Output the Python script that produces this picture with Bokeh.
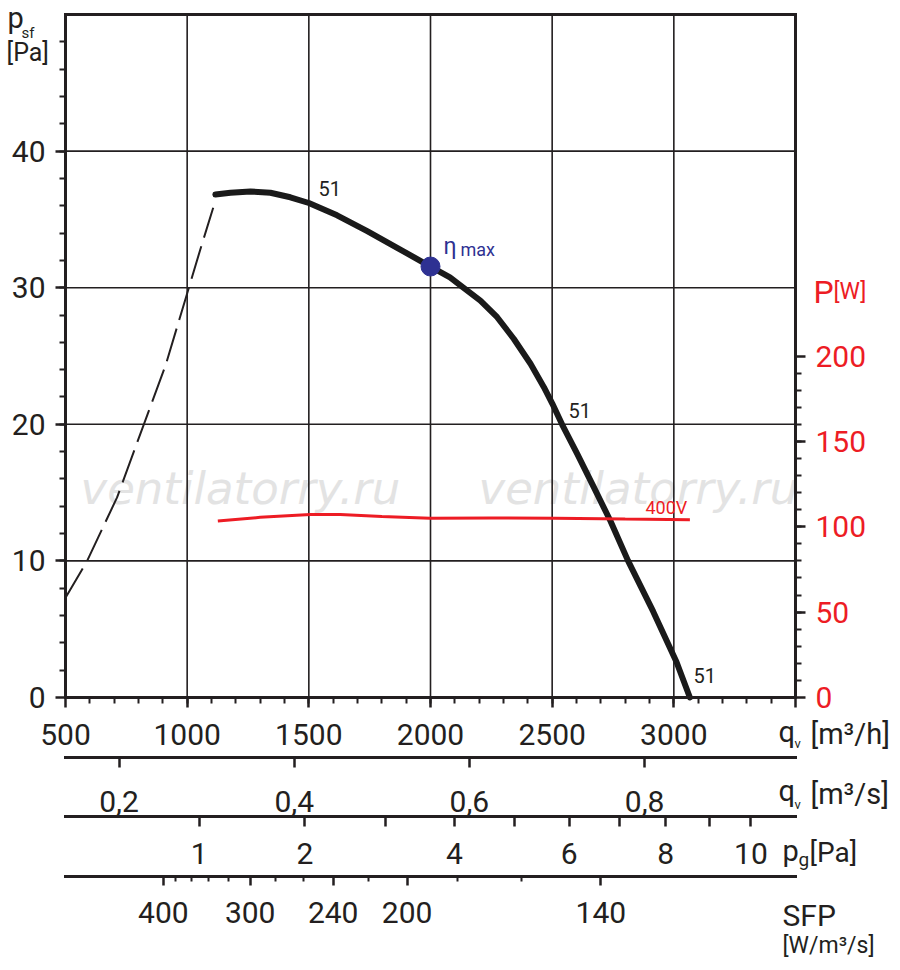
from math import sqrt

from bokeh.plotting import figure
from bokeh.models import Range1d, LinearAxis, FixedTicker, Label
from bokeh.embed import file_html
from bokeh.resources import INLINE

INK = "#231f20"
RED = "#ed1c24"
BLUE = "#2e3192"
FONT = "Roboto"

# fan curve "51": static pressure p_sf [Pa] over air flow q_v [m3/h]
q_fan = [1116, 1178, 1260, 1342, 1424, 1500, 1616, 1740, 1863, 2000, 2080, 2135, 2205,
         2274, 2342, 2411, 2466, 2501, 2541, 2603, 2671, 2740, 2812, 2915, 3011, 3066]
p_fan = [36.82, 36.95, 37.05, 36.95, 36.62, 36.2, 35.3, 34.14, 32.92, 31.55, 30.75, 30.0, 29.06,
         27.84, 26.26, 24.43, 22.72, 21.5, 19.98, 17.84, 15.4, 12.9, 10.0, 6.3, 2.6, 0.0]

# unstable (stall) part, dashed
q_stall = [500, 589, 712, 822, 911, 1007, 1054, 1107]
p_stall = [7.3, 10.0, 14.65, 20.0, 24.3, 30.0, 32.8, 35.85]

# input power P [W] at 400V
q_pow = [1126, 1300, 1506, 1629, 1800, 1998, 2250, 2511, 2800, 3066]
P_pow = [103.3, 105.5, 107.2, 107.2, 106.0, 105.0, 105.1, 105.0, 104.5, 104.1]

# best efficiency point
q_eta = [2000]
p_eta = [31.55]

# axes
q_ticks = [500, 1000, 1500, 2000, 2500, 3000, 3500]
p_ticks = [0, 10, 20, 30, 40]
P_ticks = [0, 50, 100, 150, 200]
qs_ticks = [0.2, 0.4, 0.6, 0.8]                  # m3/s
pg_ticks = [1, 2, 3, 4, 5, 6, 7, 8, 9, 10]       # dynamic pressure [Pa]
pg_labels = ["1", "2", "", "4", "", "6", "", "8", "", "10"]
pg_const = 1049                                  # q_v [m3/h] at p_g = 1 Pa
sfp_major = [400, 300, 240, 200, 140]
sfp_major_q = [902, 1259, 1600, 1904, 2700]
sfp_minor_q = [952, 1017, 1087, 1169, 1362, 1477, 1744, 2109, 2372]

# layout: the frame fills the canvas, the chart box sits at pixels 65..795 x 14..697
W, H = 900, 970
BOX_L, BOX_R, BOX_T, BOX_B = 65, 795, 14, 697
kx = (BOX_R - BOX_L) / (q_ticks[-1] - q_ticks[0])
ky = (BOX_B - BOX_T) / 50.0


def qx(px):
    return q_ticks[0] + (px - BOX_L) / kx


def py(px):
    return (BOX_B - px) / ky


p = figure(width=W, height=H, x_range=Range1d(qx(0), qx(W)), y_range=Range1d(py(H), py(0)),
           output_backend="svg", toolbar_location=None, min_border=0,
           x_axis_location=None, y_axis_location=None)
p.outline_line_color = None
p.grid.visible = False
p.background_fill_color = "white"
p.border_fill_color = "white"
p.extra_y_ranges = {"power": Range1d(py(H) * 8, py(0) * 8)}


def style(ax, out=10, minor_out=6, standoff=10, color=INK):
    ax.axis_line_color = INK
    ax.axis_line_width = 3
    ax.axis_line_cap = "square"
    ax.major_tick_line_color = INK
    ax.major_tick_line_width = 2.5
    ax.minor_tick_line_color = INK
    ax.minor_tick_line_width = 2
    ax.major_tick_in = 0
    ax.major_tick_out = out
    ax.minor_tick_in = 0
    ax.minor_tick_out = minor_out
    ax.major_label_standoff = standoff
    ax.major_label_text_font = FONT
    ax.major_label_text_font_size = "30px"
    ax.major_label_text_color = color


def add_axis(side, loc, ticker, standoff, out=10, minor_out=6, color=INK, bounds=(500, 3500),
             overrides=None, **kw):
    ax = LinearAxis(fixed_location=loc, bounds=bounds, ticker=ticker, **kw)
    if overrides:
        ax.major_label_overrides = overrides
    style(ax, out=out, minor_out=minor_out, standoff=standoff, color=color)
    p.add_layout(ax, side)
    return ax


# grid
grid_q = q_ticks[1:-1]
grid_p = p_ticks[1:]
p.segment(x0=grid_q, y0=[0] * len(grid_q), x1=grid_q, y1=[50] * len(grid_q),
          line_color=INK, line_width=1.6)
p.segment(x0=[500] * len(grid_p), y0=grid_p, x1=[3500] * len(grid_p), y1=grid_p,
          line_color=INK, line_width=1.6)

# chart box axes
add_axis("below", 0, FixedTicker(ticks=q_ticks, minor_ticks=list(range(600, 3500, 100))),
         standoff=16, overrides={3500: ""})
add_axis("left", 500, FixedTicker(ticks=p_ticks, minor_ticks=list(range(2, 50, 2))),
         standoff=10, bounds=(0, 50))
add_axis("right", 3500, FixedTicker(ticks=P_ticks, minor_ticks=list(range(10, 200, 10))),
         standoff=10, color=RED, bounds=(0, 400), y_range_name="power")
top = add_axis("above", 50, FixedTicker(ticks=[]), standoff=0, out=0, minor_out=0)
top.major_label_text_alpha = 0

# q_v [m3/s]
qs_pos = [round(v * 3600) for v in qs_ticks]
add_axis("below", py(757), FixedTicker(ticks=qs_pos), standoff=23, minor_out=0,
         overrides={q: str(v).replace(".", ",") for q, v in zip(qs_pos, qs_ticks)})

# p_g [Pa]
pg_pos = [round(pg_const * sqrt(v)) for v in pg_ticks]
add_axis("below", py(816), FixedTicker(ticks=pg_pos), standoff=16, minor_out=0,
         overrides=dict(zip(pg_pos, pg_labels)))

# SFP [W/m3/s]
add_axis("below", py(876), FixedTicker(ticks=sfp_major_q, minor_ticks=sfp_minor_q),
         standoff=16, out=9, minor_out=5,
         overrides={q: str(v) for q, v in zip(sfp_major_q, sfp_major)})


def note(text, x, y, size, color=INK, font=FONT, style_="normal", level="annotation"):
    # y is the wanted baseline in pixels; Bokeh sets the text about one descent lower
    y = y - (0.29 * size + 1)
    p.add_layout(Label(x=qx(x), y=py(y), text=text, text_font=font,
                       text_font_size=f"{size}px", text_font_style=style_, text_color=color,
                       text_baseline="alphabetic", level=level))


# watermark
for wx in (80, 478):
    note("ventilatorry.ru", wx, 502, 45, color="#e3e3e3", font="DejaVu Sans",
         style_="italic", level="underlay")

p.line(q_stall, p_stall, line_color=INK, line_width=2, line_dash="34 9")
p.line(q_fan, p_fan, line_color="#1a1a1a", line_width=6, line_cap="round", line_join="round")
p.line(q_pow, P_pow, y_range_name="power", line_color=RED, line_width=3)
p.scatter(q_eta, p_eta, size=19, color=BLUE)

# curve marks (pixel positions of the reference)
note("51", 318, 195, 20)
note("51", 568, 417, 20)
note("51", 693, 682, 20)
note("400V", 645, 513, 18, color=RED)
note("η", 443, 254, 23, color=BLUE)
note("max", 460, 255, 18, color=BLUE)

# axis titles
note("p", 7, 27, 29)
note("sf", 21, 38, 15)
note("[Pa]", 6, 60, 25)
note("P", 813, 302, 32, color=RED)
note("[W]", 833, 299, 23, color=RED)

note("q", 778, 741, 29)
note("v", 794, 748, 13)
note("[m³/h]", 810, 743, 29)
note("q", 778, 800, 29)
note("v", 794, 809, 13)
note("[m³/s]", 810, 803, 29)
note("p", 782, 860, 29)
note("g", 798, 866, 19)
note("[Pa]", 809, 861, 28)
note("SFP", 782, 925, 30)
note("[W/m³/s]", 782, 953, 23)

open("out.html", "w").write(file_html(p, INLINE))
